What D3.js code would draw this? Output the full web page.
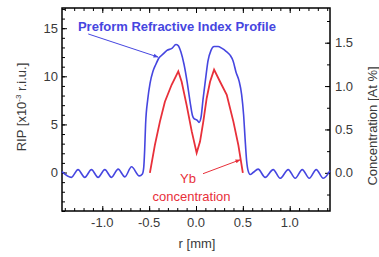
<!DOCTYPE html>
<html>
<head>
<meta charset="utf-8">
<script src="https://cdn.jsdelivr.net/npm/d3@7"></script>
<style>
  body { margin: 0; background: #fff; }
  svg { display: block; font-family: "Liberation Sans", Arial, sans-serif; }
</style>
</head>
<body>
<svg id="chart" width="379" height="257"></svg>
<script>
// radius [mm] and refractive index profile [x10^-3] of the preform (blue)
const ripR = [-1.43, -1.329, -1.259, -1.187, -1.116, -1.045, -0.973, -0.902, -0.831, -0.759, -0.688, -0.605,
  -0.572, -0.558, -0.548, -0.538, -0.515, -0.49, -0.46, -0.428, -0.396, -0.353, -0.31, -0.257, -0.214, -0.19,
  -0.16, -0.128, -0.096, -0.064, -0.037, -0.021, 0, 0.016, 0.032, 0.053, 0.075, 0.102, 0.128, 0.16, 0.193,
  0.235, 0.278, 0.321, 0.364, 0.396, 0.428, 0.46, 0.487, 0.508, 0.524, 0.54, 0.556, 0.578, 0.61, 0.663,
  0.738, 0.824, 0.898, 0.984, 1.059, 1.134, 1.209, 1.283, 1.358, 1.43];
const ripVals = [0.1, -0.5, 0.3, -0.5, 0.3, -0.5, 0.3, -0.5, 0.35, -0.45, 0.6, -0.35,
  -0.15, 0.5, 2.3, 5.0, 7.6, 9.3, 10.5, 11.25, 11.9, 12.3, 12.7, 12.9, 13.3, 13.2,
  12.5, 11.25, 9.5, 7.4, 5.9, 5.6, 5.5, 5.4, 5.2, 5.7, 7.6, 9.7, 11.6, 12.7, 13.1,
  13.1, 12.9, 12.6, 12.2, 11.6, 10.4, 9.5, 8.1, 6.0, 3.5, 1.25, 0.2, -0.2, 0.0, 0.35,
  -0.5, 0.3, -0.6, 0.3, -0.6, 0.3, -0.6, 0.3, -0.6, 0.2];

// Yb concentration [At %] (red)
const ybR = [-0.492, -0.439, -0.385, -0.332, -0.26, -0.189, -0.153, -0.1, -0.046, 0.007, 0.043, 0.078,
  0.114, 0.15, 0.193, 0.257, 0.328, 0.399, 0.452, 0.5];
const ybVals = [0.0, 0.32, 0.59, 0.82, 1.015, 1.17, 1.05, 0.78, 0.48, 0.23, 0.36, 0.59,
  0.86, 1.05, 1.19, 1.05, 0.9, 0.59, 0.32, 0.0];

const xTicks = [-1.0, -0.5, 0.0, 0.5, 1.0];
const yLeftTicks = [0, 5, 10, 15];
const yRightTicks = [0.0, 0.5, 1.0, 1.5];

const blue = "#4646e0", red = "#e8303a", ink = "#3a3a3a";
const plotL = 62, plotR = 330, plotT = 8, plotB = 211;

const svg = d3.select("#chart");
const x = d3.scaleLinear().domain([-1.43, 1.43]).range([plotL, plotR]);
const yL = d3.scaleLinear().domain([-4, 17.1]).range([plotB, plotT]);
const yR = d3.scaleLinear().domain([-0.44, 1.9]).range([plotB, plotT]);

// minor + major ticks, drawn inward
function ticks(axisGen, scale, minor, major, g) {
  g.call(axisGen(scale).tickValues(minor).tickSize(-3).tickFormat(""));
  g.append("g").call(axisGen(scale).tickValues(major).tickSize(-5).tickFormat(""));
  g.selectAll(".domain").remove();
  g.selectAll("line").attr("stroke", "#000").attr("stroke-width", 1);
}
const xMinor = d3.range(-14, 15).map(d => d / 10);
const yLMinor = d3.range(-4, 18);
const yRMinor = d3.range(-1, 8).map(d => d / 4);

ticks(d3.axisBottom, x, xMinor, xTicks, svg.append("g").attr("transform", `translate(0,${plotB})`));
ticks(d3.axisTop, x, xMinor, xTicks, svg.append("g").attr("transform", `translate(0,${plotT})`));
ticks(d3.axisLeft, yL, yLMinor, yLeftTicks, svg.append("g").attr("transform", `translate(${plotL},0)`));
ticks(d3.axisRight, yR, yRMinor, yRightTicks, svg.append("g").attr("transform", `translate(${plotR},0)`));

svg.append("rect")
  .attr("x", plotL).attr("y", plotT)
  .attr("width", plotR - plotL).attr("height", plotB - plotT)
  .attr("fill", "none").attr("stroke", "#000").attr("stroke-width", 1.5);

// tick labels
const fs = 13;
svg.append("g").selectAll("text").data(xTicks).join("text")
  .attr("x", d => x(d)).attr("y", 227)
  .attr("text-anchor", "middle").attr("font-size", fs).attr("fill", ink)
  .text(d => d3.format(".1f")(d).replace("−", "-"));
svg.append("g").selectAll("text").data(yLeftTicks).join("text")
  .attr("x", 58).attr("y", d => yL(d) + 4.5)
  .attr("text-anchor", "end").attr("font-size", fs).attr("fill", ink)
  .text(d => d);
svg.append("g").selectAll("text").data(yRightTicks).join("text")
  .attr("x", 335).attr("y", d => yR(d) + 4.5)
  .attr("font-size", fs).attr("fill", ink)
  .text(d => d3.format(".1f")(d));

// axis titles
svg.append("text").attr("x", 197).attr("y", 248)
  .attr("text-anchor", "middle").attr("font-size", fs).attr("fill", ink).text("r [mm]");
const lt = svg.append("text").attr("transform", "translate(26,107) rotate(-90)")
  .attr("text-anchor", "middle").attr("font-size", fs).attr("fill", ink);
lt.append("tspan").text("RIP [x10");
lt.append("tspan").attr("font-size", 8).attr("dy", -5).text("-3");
lt.append("tspan").attr("dy", 5).text(" r.i.u.]");
svg.append("text").attr("transform", "translate(377,126) rotate(-90)")
  .attr("text-anchor", "middle").attr("font-size", fs).attr("fill", ink)
  .text("Concentration [At %]");

// curves
svg.append("path")
  .datum(ripR.map((r, i) => [r, ripVals[i]]))
  .attr("fill", "none").attr("stroke", blue).attr("stroke-width", 1.6)
  .attr("d", d3.line().x(d => x(d[0])).y(d => yL(d[1])).curve(d3.curveMonotoneX));
svg.append("path")
  .datum(ybR.map((r, i) => [r, ybVals[i]]))
  .attr("fill", "none").attr("stroke", red).attr("stroke-width", 1.8)
  .attr("d", d3.line().x(d => x(d[0])).y(d => yR(d[1])));

// annotations
const defs = svg.append("defs");
[["ab", blue], ["ar", red]].forEach(([id, c]) => {
  defs.append("marker").attr("id", id).attr("viewBox", "0 0 10 10")
    .attr("refX", 9).attr("refY", 5).attr("markerWidth", 5).attr("markerHeight", 5)
    .attr("orient", "auto")
    .append("path").attr("d", "M0,1L10,5L0,9z").attr("fill", c);
});
svg.append("text").attr("x", x(-1.26)).attr("y", yL(14.66))
  .attr("font-size", 13).attr("fill", blue).attr("font-weight", "bold")
  .text("Preform Refractive Index Profile");
svg.append("line")
  .attr("x1", x(-1.15)).attr("y1", yL(14.4)).attr("x2", x(-0.405)).attr("y2", yL(12.0))
  .attr("stroke", blue).attr("stroke-width", 1).attr("marker-end", "url(#ab)");

svg.append("text").attr("x", x(-0.085)).attr("y", yR(-0.115))
  .attr("text-anchor", "middle").attr("font-size", 13).attr("fill", red).text("Yb");
svg.append("text").attr("x", x(-0.048)).attr("y", yR(-0.32))
  .attr("text-anchor", "middle").attr("font-size", 13).attr("fill", red).text("concentration");
svg.append("line")
  .attr("x1", x(0.075)).attr("y1", yR(-0.01)).attr("x2", x(0.47)).attr("y2", yR(0.15))
  .attr("stroke", red).attr("stroke-width", 1).attr("marker-end", "url(#ar)");
</script>
</body>
</html>
